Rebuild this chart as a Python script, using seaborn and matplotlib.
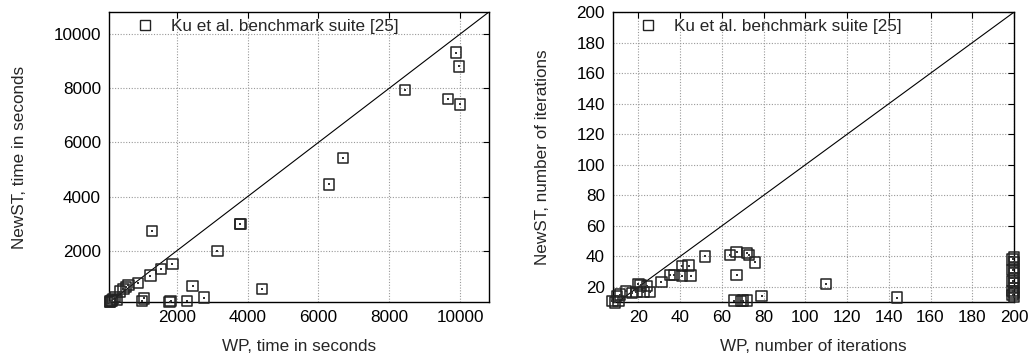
import numpy as np
import pandas as pd
import seaborn as sns
import matplotlib
matplotlib.use("Agg")
import matplotlib.pyplot as plt
from matplotlib.lines import Line2D

# ---- data: left panel (time in seconds) ----
wp_time = [9880, 9960, 8440, 9660, 10000, 6700, 6290, 3800, 3790, 1300,
           3150, 1880, 1550, 1260, 900, 640, 570, 500, 400, 260,
           200, 120, 150, 310, 2450, 4400, 1080, 1020, 1830, 1800,
           2290, 2770, 130, 180]
newst_time = [9310, 8800, 7920, 7600, 7400, 5430, 4450, 2980, 2990, 2740,
              1990, 1510, 1340, 1090, 810, 740, 680, 600, 500, 310,
              220, 130, 150, 190, 700, 600, 250, 150, 140, 120,
              150, 280, 110, 170]

# ---- data: right panel (number of iterations) ----
wp_iter = [52, 64, 67, 72, 73, 76, 67, 41, 44, 35, 37, 41, 45, 31, 110,
           79, 144, 66, 69, 72, 20, 21, 24, 25.6, 22.4, 14, 16.8, 19,
           11.2, 9.6, 7.5, 10.4, 8.8, 70,
           200, 200, 200, 200, 200, 200, 200, 200, 200,
           199.3, 199.3, 199.3, 199.3, 199.3]
newst_iter = [40, 41, 43, 42, 41, 36, 28, 33.5, 34, 28, 28, 27.4, 27.4, 23, 22,
              14, 13, 11, 10.6, 11, 22, 21, 20.4, 16.7, 16.7, 17, 16, 16.5,
              15, 14, 10.6, 10.6, 9.8, 11,
              39.6, 36.1, 32.4, 29.2, 25.9, 22.6, 19.3, 16.1, 13.5,
              38, 31, 24, 17.5, 14.5]

legend_label = "Ku et al. benchmark suite [25]"

sns.set_style("white")
plt.rcParams['font.family'] = ['Liberation Sans', 'DejaVu Sans']
plt.rcParams['font.size'] = 12.3

fig = plt.figure(figsize=(10.31, 3.58), dpi=100)
ax1 = fig.add_axes([0.106, 0.156, 0.368, 0.810])
ax2 = fig.add_axes([0.595, 0.156, 0.3885, 0.810])

def draw(ax, x, y, xlim, ylim, xticks, yticks, xlabel, ylabel, leg_x):
    df = pd.DataFrame({"x": x, "y": y})
    ax.set_xlim(*xlim)
    ax.set_ylim(*ylim)
    ax.set_xticks(xticks)
    ax.set_yticks(yticks)
    ax.grid(True, linestyle=(0, (1, 1.5)), color="#999999", linewidth=0.8)
    ax.set_axisbelow(True)
    lo = max(xlim[0], ylim[0])
    hi = min(xlim[1], ylim[1])
    ax.plot([lo, hi], [lo, hi], color="black", linewidth=0.8, zorder=2)
    sns.scatterplot(data=df, x="x", y="y", ax=ax, marker="s", s=55,
                    facecolor="none", edgecolor="#222222", linewidth=1.1,
                    clip_on=False, zorder=3, legend=False)
    sns.scatterplot(data=df, x="x", y="y", ax=ax, marker="s", s=1.5,
                    color="#333333", linewidth=0, clip_on=False, zorder=4,
                    legend=False)
    ax.set_xlabel(xlabel, fontsize=12.3, labelpad=10)
    ax.set_ylabel(ylabel, fontsize=12.3, labelpad=19)
    ax.tick_params(direction="in", length=4, width=0.8, top=True, right=True,
                   labelsize=12.3, pad=6, colors="black")
    for sp in ax.spines.values():
        sp.set_color("black")
        sp.set_linewidth(1.0)
    h = Line2D([], [], marker="s", markersize=6.5, markerfacecolor="none",
               markeredgecolor="#222222", markeredgewidth=1.0, linestyle="none")
    ax.legend([h], [legend_label], loc="upper left", frameon=False,
              fontsize=12.3, handlelength=1.0, handletextpad=1.0,
              borderaxespad=0, borderpad=0,
              bbox_to_anchor=(leg_x, 0.976))

draw(ax1, wp_time, newst_time, (100, 10800), (110, 10800),
     [2000, 4000, 6000, 8000, 10000], [2000, 4000, 6000, 8000, 10000],
     "WP, time in seconds", "NewST, time in seconds", 0.072)
draw(ax2, wp_iter, newst_iter, (8, 200), (10, 200),
     list(range(20, 201, 20)), list(range(20, 201, 20)),
     "WP, number of iterations", "NewST, number of iterations", 0.066)

fig.savefig("out.png", dpi=100)
